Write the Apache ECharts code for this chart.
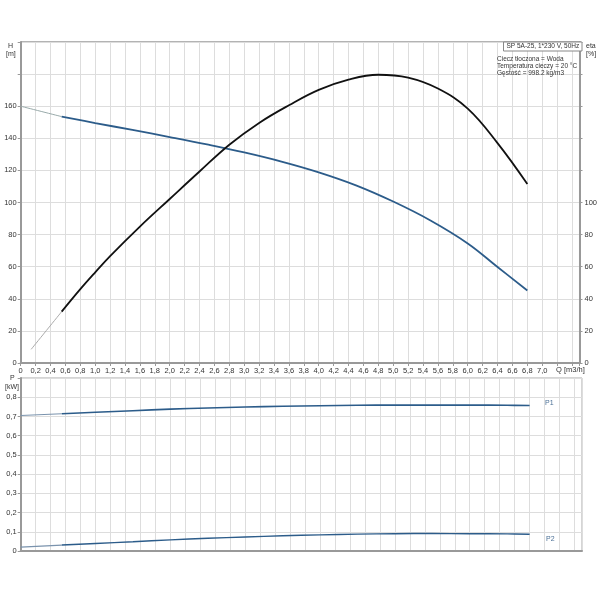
<!DOCTYPE html>
<html><head><meta charset="utf-8">
<script src="https://cdn.jsdelivr.net/npm/echarts@6/dist/echarts.min.js"></script>
<style>html,body{margin:0;padding:0;background:#fff}#c{width:600px;height:600px}</style>
</head><body><div id="c"></div>
<script>
// Q-H curve
const hStartQ = [0, 0.55];
const hStartVal = [160, 153.5];
const hQ = [0.55, 1.0, 1.5, 2.0, 2.5, 3.0, 3.5, 4.0, 4.5, 5.0, 5.5, 6.0, 6.4, 6.8];
const hVal = [153.5, 149.5, 145.2, 140.8, 136.2, 131.2, 125.5, 118.8, 110.7, 100.6, 88.8, 74.5, 59.8, 45.2];
// efficiency curve
const etaStartQ = [0.14, 0.55];
const etaStartVal = [8.5, 32];
const etaQ = [0.55, 0.8, 1.0, 1.2, 1.6, 2.0, 2.4, 2.8, 3.2, 3.6, 4.0, 4.4, 4.8, 5.2, 5.6, 6.0, 6.4, 6.8];
const etaVal = [32, 46, 56.5, 66.6, 85, 102.2, 119.3, 136, 149.6, 160.6, 170.2, 176.6, 179.6, 177.8, 171, 158.5, 137, 111.5];
// power curves
const pQ = [0, 0.55, 1.0, 1.5, 2.0, 2.5, 3.0, 3.5, 4.0, 4.5, 5.0, 5.5, 6.0, 6.5, 6.8];
const p1Val = [0.705, 0.714, 0.722, 0.73, 0.738, 0.744, 0.749, 0.753, 0.756, 0.758, 0.759, 0.759, 0.759, 0.758, 0.757];
const p2Val = [0.02, 0.031, 0.039, 0.048, 0.058, 0.066, 0.073, 0.079, 0.084, 0.088, 0.09, 0.091, 0.09, 0.089, 0.087];
// texts
const pumpTitle = 'SP 5A-25, 1*230 V, 50Hz';
const infoLines = ['Ciecz tłoczona = Woda', 'Temperatura cieczy = 20 °C', 'Gęstość = 998.2 kg/m3'];

const zip = (a, b) => a.map((v, i) => [v, b[i]]);
const FONT = 'Liberation Sans';
const comma = v => (Math.abs(v) < 1e-9 ? '0' : (+v).toFixed(1).replace('.', ','));
const BLUE = '#2c5c8a';
const p1Thin = zip(pQ.slice(0, 2), p1Val.slice(0, 2));
const p2Thin = zip(pQ.slice(0, 2), p2Val.slice(0, 2));

const chart = echarts.init(document.getElementById('c'));
const txt = (x, y, s, extra) => ({type: 'text', x: x, y: y, z: 100, style: Object.assign({text: s, font: '7px ' + FONT, fill: '#333', verticalAlign: 'middle'}, extra || {})});
const curve = (xi, yi, data, color, width) => ({type: 'line', xAxisIndex: xi, yAxisIndex: yi, data: data, smooth: 0.4, showSymbol: false, lineStyle: {color: color, width: width}});
chart.setOption({
  animation: false,
  grid: [
    {left: 20.7, right: 17, top: 42, bottom: 237, show: true, borderColor: '#666', borderWidth: 1},
    {left: 20.7, right: 18, top: 378, bottom: 49, show: true, borderColor: '#aaa', borderWidth: 1}
  ],
  xAxis: [
    {type: 'value', gridIndex: 0, min: 0, max: 7.5, interval: 0.2,
     axisLine: {show: true, lineStyle: {color: '#999', width: 2}},
     axisTick: {show: true, length: 3, lineStyle: {color: '#999'}},
     splitLine: {show: true, lineStyle: {color: '#ddd', width: 1}},
     axisLabel: {fontSize: 7.5, fontFamily: FONT, color: '#333', margin: 4,
       formatter: v => (v > 7.05 ? '' : comma(v))}},
    {type: 'value', gridIndex: 1, min: 0, max: 7.5, interval: 0.2,
     axisLine: {show: true, lineStyle: {color: '#999', width: 2}},
     axisTick: {show: false}, axisLabel: {show: false},
     splitLine: {show: true, lineStyle: {color: '#ddd', width: 1}}}
  ],
  yAxis: [
    {type: 'value', gridIndex: 0, min: 0, max: 200, interval: 20,
     axisLine: {show: true, lineStyle: {color: '#999', width: 2}},
     axisTick: {show: true, length: 3, lineStyle: {color: '#999'}},
     splitLine: {show: true, lineStyle: {color: '#ddd', width: 1}},
     axisLabel: {fontSize: 7.5, fontFamily: FONT, color: '#333', margin: 4,
       formatter: v => (v > 165 ? '' : String(v))}},
    {type: 'value', gridIndex: 0, position: 'right', min: 0, max: 200, interval: 20,
     axisLine: {show: true, lineStyle: {color: '#999', width: 2}},
     axisTick: {show: true, length: 3, lineStyle: {color: '#999'}},
     splitLine: {show: false},
     axisLabel: {fontSize: 7.5, fontFamily: FONT, color: '#333', margin: 5,
       formatter: v => (v > 105 ? '' : String(v))}},
    {type: 'value', gridIndex: 1, min: 0, max: 0.9, interval: 0.1,
     axisLine: {show: true, lineStyle: {color: '#999', width: 2}},
     axisTick: {show: true, length: 3, lineStyle: {color: '#999'}},
     splitLine: {show: true, lineStyle: {color: '#ddd', width: 1}},
     axisLabel: {fontSize: 7.5, fontFamily: FONT, color: '#333', margin: 4,
       formatter: v => (v > 0.85 ? '' : comma(v))}}
  ],
  series: [
    curve(0, 0, zip(hStartQ, hStartVal), '#9aa', 1),
    curve(0, 0, zip(hQ, hVal), BLUE, 1.8),
    curve(0, 1, zip(etaStartQ, etaStartVal), '#aaa', 1),
    curve(0, 1, zip(etaQ, etaVal), '#111', 1.8),
    curve(1, 2, p1Thin, '#7a93ad', 1.2),
    curve(1, 2, zip(pQ.slice(1), p1Val.slice(1)), BLUE, 1.6),
    curve(1, 2, p2Thin, '#7a93ad', 1.2),
    curve(1, 2, zip(pQ.slice(1), p2Val.slice(1)), BLUE, 1.4)
  ],
  graphic: [
    txt(8, 46, 'H'), txt(6, 54, '[m]'),
    txt(586, 46, 'eta'), txt(586, 54, '[%]'),
    txt(10, 378, 'P'), txt(5, 387, '[kW]'),
    txt(556, 369.5, 'Q [m3/h]', {font: '7.5px ' + FONT}),
    {type: 'rect', z: 99, shape: {x: 503.5, y: 42, width: 78.5, height: 9}, style: {fill: '#fff', stroke: '#888', lineWidth: 1}},
    txt(506.5, 46.5, pumpTitle, {font: '6.5px ' + FONT}),
    txt(497, 59, infoLines[0], {font: '6.5px ' + FONT}),
    txt(497, 66, infoLines[1], {font: '6.5px ' + FONT}),
    txt(497, 73.5, infoLines[2], {font: '6.5px ' + FONT}),
    txt(545, 403, 'P1', {fill: '#4a6f96'}),
    txt(546, 539, 'P2', {fill: '#4a6f96'})
  ]
});
</script></body></html>
